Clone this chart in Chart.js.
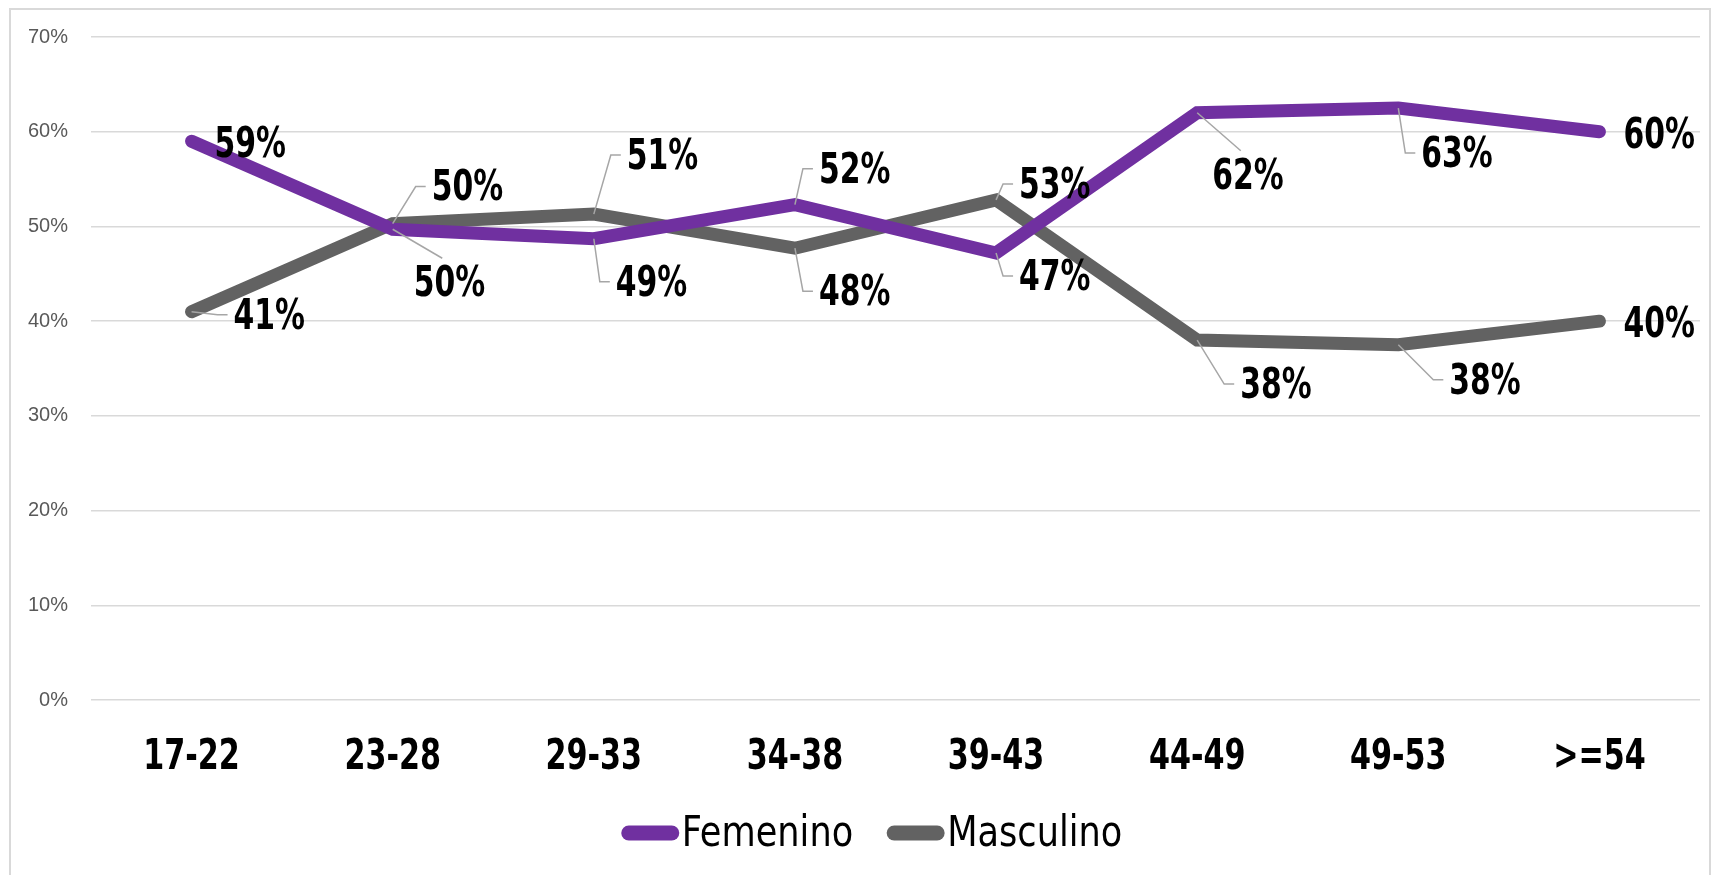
<!DOCTYPE html>
<html><head><meta charset="utf-8">
<script src="https://cdn.jsdelivr.net/npm/chart.js@4.4.1/dist/chart.umd.min.js"></script>
<style>
html,body{margin:0;padding:0;background:#fff;overflow:hidden;}
#wrap{position:absolute;left:0;top:0;width:1718px;height:875px;}
#frame{position:absolute;left:9px;top:8px;width:1702px;height:880px;border:2px solid #d9d9d9;box-sizing:border-box;pointer-events:none}
</style></head><body>
<div id="wrap"><canvas id="c" width="1718" height="875"></canvas><div id="frame"></div></div>
<script>
const categories = ['17-22','23-28','29-33','34-38','39-43','44-49','49-53','>=54'];
const femenino  = [59, 49.7, 48.7, 52.3, 47.2, 62, 62.5, 60];
const masculino = [41, 50.3, 51.3, 47.7, 52.8, 38, 37.5, 40];
const seriesNames = ['Femenino','Masculino'];
const yMin = 0, yMax = 70, yStep = 10;

// label placement (offset of the label's left-middle from its point) and leader style
const labelPlacement = [
  [[23,2,''],[21,53,'d'],[22,43,'e'],[24,-36,'e'],[23,23,'e'],[15,62,'d'],[23,45,'e'],[24,2,'']],
  [[42,3,'e'],[39,-37,'e'],[33,-59,'e'],[24,43,'e'],[23,-16,'e'],[43,44,'e'],[51,35,'e'],[24,2,'']]
];
const COND = '"DejaVu Sans Condensed", "DejaVu Sans", sans-serif';

function squeezedText(ctx, txt, x, y, sx, align){
  ctx.save();
  ctx.translate(x, y);
  ctx.scale(sx, 1);
  ctx.textAlign = align;
  ctx.fillText(txt, 0, 0);
  ctx.restore();
}

const dataLabelPlugin = {
  id:'dataLabels',
  afterDatasetsDraw(chart){
    const ctx = chart.ctx;
    ctx.save();
    ctx.font = 'bold 42px ' + COND;
    const sx = 0.79;
    chart.data.datasets.forEach((ds,di)=>{
      const meta = chart.getDatasetMeta(di);
      meta.data.forEach((pt,i)=>{
        const [dx,dy,kind] = labelPlacement[di][i];
        const txt = Math.round(ds.data[i]) + '%';
        const w = ctx.measureText(txt).width * sx;
        const tx = pt.x + dx, ty = pt.y + dy;
        ctx.strokeStyle = '#a6a6a6'; ctx.lineWidth = 1.5;
        if(kind === 'e'){
          ctx.beginPath(); ctx.moveTo(pt.x, pt.y);
          const ex = Math.max(pt.x, tx - 16);
          ctx.lineTo(ex, ty); ctx.lineTo(tx - 6, ty); ctx.stroke();
        } else if(kind === 'd'){
          ctx.beginPath(); ctx.moveTo(pt.x, pt.y);
          ctx.lineTo(tx + w*0.4, ty - 24); ctx.stroke();
        }
        ctx.fillStyle = '#000'; ctx.textBaseline = 'middle';
        squeezedText(ctx, txt, tx, ty + 3, sx, 'left');
      });
    });
    ctx.restore();
  }
};

const xLabelPlugin = {
  id:'xLabels',
  afterDraw(chart){
    const ctx = chart.ctx, xs = chart.scales.x;
    ctx.save();
    ctx.font = 'bold 43px ' + COND;
    ctx.fillStyle = '#000'; ctx.textBaseline = 'middle';
    xs.ticks.forEach((t,i)=>{
      squeezedText(ctx, xs.getLabelForValue(t.value), xs.getPixelForTick(i), chart.chartArea.bottom + 58, 0.78, 'center');
    });
    ctx.restore();
  }
};

const legendPlugin = {
  id:'customLegend',
  afterDraw(chart){
    const ctx = chart.ctx;
    ctx.save();
    ctx.font = '42px ' + COND;
    const sx = 0.93;
    const sample = 57, gap = 3, itemGap = 34;
    const items = chart.data.datasets.map(d=>({t:d.label, c:d.borderColor, w:ctx.measureText(d.label).width*sx}));
    let total = items.reduce((s,it)=>s+sample+gap+it.w,0) + itemGap*(items.length-1);
    let x = chart.width/2 + 13 - total/2;
    const y = 833;
    items.forEach(it=>{
      ctx.strokeStyle = it.c; ctx.lineWidth = 15; ctx.lineCap = 'round';
      ctx.beginPath(); ctx.moveTo(x+7, y); ctx.lineTo(x+sample-7, y); ctx.stroke();
      ctx.fillStyle = '#000'; ctx.textBaseline='middle';
      squeezedText(ctx, it.t, x+sample+gap, y + 2, sx, 'left');
      x += sample + gap + it.w + itemGap;
    });
    ctx.restore();
  }
};

new Chart(document.getElementById('c'), {
  type:'line',
  data:{
    labels: categories,
    datasets:[
      {label:seriesNames[0], data:femenino, borderColor:'#7030A0', backgroundColor:'#7030A0'},
      {label:seriesNames[1], data:masculino, borderColor:'#626262', backgroundColor:'#626262'}
    ]
  },
  options:{
    responsive:false, animation:false, devicePixelRatio:1,
    layout:{padding:{top:37,right:18,left:0,bottom:0}},
    elements:{
      line:{borderWidth:13, borderCapStyle:'round', borderJoinStyle:'miter', tension:0},
      point:{radius:0, hoverRadius:0}
    },
    plugins:{legend:{display:false}, tooltip:{enabled:false}},
    scales:{
      x:{
        offset:true,
        grid:{display:false, drawTicks:false},
        border:{display:false},
        ticks:{display:false},
        afterFit(s){ s.height = 175; }
      },
      y:{
        min:yMin, max:yMax,
        grid:{color:'#d9d9d9', lineWidth:1.5, drawTicks:false},
        border:{display:false},
        ticks:{stepSize:yStep, color:'#595959', font:{family:'"Liberation Sans", sans-serif', size:20}, padding:23,
               callback:v=>v+'%'},
        afterFit(s){ s.width = 91; }
      }
    }
  },
  plugins:[dataLabelPlugin, xLabelPlugin, legendPlugin]
});
</script>
</body></html>
